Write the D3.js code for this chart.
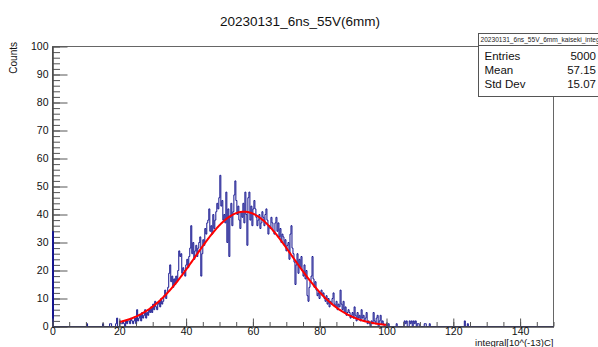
<!DOCTYPE html>
<html>
<head>
<meta charset="utf-8">
<script src="https://cdn.jsdelivr.net/npm/d3@7"></script>
<style>
  body { margin: 0; background: #fff; }
  svg { display: block; font-family: "Liberation Sans", Arial, Helvetica, sans-serif; }
</style>
</head>
<body>
<div id="chart"></div>
<script>
// histogram: 500 bins of 0.3 between 0 and 150
const binWidth = 0.3
const xDomain = [0, 150]
const yDomain = [0, 100]
const xTicks = [0, 20, 40, 60, 80, 100, 120, 140]
const yTicks = [0, 10, 20, 30, 40, 50, 60, 70, 80, 90, 100]

// first bin (x = 0) holds the events with no signal
const zeroBinCount = 34

// contiguous bins, starting at bin 66 (x = 19.8)
const mainStartBin = 66
const countsRise = [
  0, 2, 1, 1, 2, 1, 0, 2, 1, 2,
  2, 1, 3, 2, 1, 2, 3, 1, 6, 2,
  3, 4, 2, 5, 3, 4, 6, 3, 5, 4,
  6, 5, 7, 5, 8, 6, 9, 7, 6, 8,
  9, 7, 10, 8, 9, 11, 13, 10, 12, 14,
  19, 22, 16, 18, 14, 17, 15, 18, 16, 20,
  27, 25, 26, 19, 21, 20, 18, 22, 24, 21,
  25, 28, 36, 26, 30, 24, 27, 29, 25, 28,
  30, 32, 18, 26, 31, 29, 35, 33, 37, 38,
  42, 34, 36, 33, 40, 35, 38, 41, 44, 42,
  46, 54, 43, 45, 38, 40
]
const countsPeak = [
  37, 48, 30, 42, 25, 39, 44, 36, 41, 47,
  52, 45, 40, 43, 38, 35, 41, 39, 44, 37,
  48, 40, 29, 46, 48, 38, 43, 36, 42, 45,
  42, 39, 36, 38, 40, 35, 37, 41, 39, 36,
  40, 42, 38, 33, 36, 35, 39, 37, 34, 33,
  37, 39, 34, 37, 32, 35, 30, 33, 32, 29,
  31, 27, 29, 30, 24, 33, 36, 28, 26, 23,
  15, 22, 26, 19, 24, 21, 25, 20
]
const countsFall = [
  18, 22, 17, 20, 11, 9, 14, 16, 18, 25,
  17, 14, 16, 13, 11, 12, 10, 12, 13, 11,
  12, 10, 9, 11, 8, 10, 7, 9, 8, 10,
  12, 8, 7, 9, 6, 8, 7, 13, 8, 6,
  9, 5, 7, 4, 5, 6, 5, 3, 4, 5,
  3, 7, 4, 2, 5, 3, 4, 2, 6, 3,
  4, 2, 3, 5, 1, 2, 1, 0, 2, 1,
  5, 2, 1, 3, 4, 0, 2, 4, 1, 2
]
const countsTail = [
  1, 0, 0, 1, 0, 1, 0, 0, 0, 0,
  0, 0, 0, 1, 0, 0, 0, 0, 0, 0,
  0, 2, 1, 2, 0, 0, 2, 1, 2, 0,
  2, 1, 2, 0, 1, 1, 0, 0, 0, 0,
  0, 1, 1, 0, 0, 0, 1, 0, 0, 0
]
// isolated entries far in the tails
const strayX = [10.2, 15.0, 17.1, 17.4, 18.9, 19.2, 123.3, 124.2]
const strayCounts = [1, 1, 1, 1, 1, 3, 2, 1]

// gaussian fit
const fitRange = [20, 100]
const fitConstant = 41
const fitMean = 57.3
const fitSigma = 14.6

const titleText = "20230131_6ns_55V(6mm)"
const histName = "20230131_6ns_55V_6mm_kaiseki_integral"
const statLabels = ["Entries", "Mean", "Std Dev"]
const statValues = ["5000", "57.15", "15.07"]

const width = 598, height = 347
const frame = { left: 52.5, right: 553.5, top: 46.5, bottom: 326.5 }

const svg = d3.select("#chart").append("svg")
    .attr("width", width)
    .attr("height", height)

const x = d3.scaleLinear().domain(xDomain).range([frame.left, frame.right])
const y = d3.scaleLinear().domain(yDomain).range([frame.bottom, frame.top])

// fill the bins
const nBins = Math.round((xDomain[1] - xDomain[0]) / binWidth)
const counts = new Array(nBins).fill(0)
counts[0] = zeroBinCount
countsRise.concat(countsPeak, countsFall, countsTail).forEach((c, i) => {
  counts[mainStartBin + i] = c
})
strayX.forEach((v, i) => {
  counts[Math.floor(v / binWidth + 1e-6)] = strayCounts[i]
})

const xMinor = d3.range(xDomain[0], xDomain[1] + 0.001, 5)
const yMinor = d3.range(yDomain[0], yDomain[1] + 0.001, 2)

/* ------- FRAME -------*/
svg.append("rect")
  .attr("x", frame.left)
  .attr("y", frame.top)
  .attr("width", frame.right - frame.left)
  .attr("height", frame.bottom - frame.top)
  .attr("fill", "none")
  .attr("stroke", "#666")

/* ------- Y AXIS (under the histogram) -------*/
const yAxisG = svg.append("g").attr("transform", `translate(${frame.left},0)`)
yAxisG.append("g")
  .call(d3.axisLeft(y).tickValues(yMinor).tickFormat("").tickSizeInner(-7.5).tickSizeOuter(0))
yAxisG.append("g")
  .call(d3.axisLeft(y).tickValues(yTicks).tickSizeInner(-15).tickSizeOuter(0).tickPadding(4))

/* ------- HISTOGRAM -------*/
const pts = counts.map((c, i) => [xDomain[0] + i * binWidth, c])
pts.unshift([xDomain[0], 0])
pts.push([xDomain[1], 0])

const step = d3.line()
  .x(d => x(d[0]))
  .y(d => y(d[1]))
  .curve(d3.curveStepAfter)

svg.append("path")
  .datum(pts)
  .attr("d", step)
  .attr("fill", "none")
  .attr("stroke", "#15158f")
  .attr("stroke-width", 1)

/* ------- FIT -------*/
const gaus = v => fitConstant * Math.exp(-0.5 * Math.pow((v - fitMean) / fitSigma, 2))
const fitPts = d3.range(fitRange[0], fitRange[1] + 0.001, 0.25).map(v => [v, gaus(v)])

svg.append("path")
  .datum(fitPts)
  .attr("d", d3.line().x(d => x(d[0])).y(d => y(d[1])))
  .attr("fill", "none")
  .attr("stroke", "#ff0000")
  .attr("stroke-width", 2)

/* ------- X AXIS -------*/
const xAxisG = svg.append("g").attr("transform", `translate(0,${frame.bottom})`)
xAxisG.append("g")
  .call(d3.axisBottom(x).tickValues(xMinor).tickFormat("").tickSizeInner(-4.5).tickSizeOuter(0))
xAxisG.append("g")
  .call(d3.axisBottom(x).tickValues(xTicks).tickSizeInner(-8).tickSizeOuter(0).tickPadding(1))

svg.selectAll(".tick line").attr("stroke", "#555")
svg.selectAll(".domain").attr("stroke", "#444")
svg.selectAll(".tick text")
  .attr("font-family", "Liberation Sans, Arial, sans-serif")
  .attr("font-size", 10.5)
  .attr("fill", "#111")

svg.append("text")
  .attr("transform", `translate(17,42) rotate(-90)`)
  .attr("text-anchor", "end")
  .attr("font-size", 10)
  .attr("fill", "#111")
  .text("Counts")

svg.append("text")
  .attr("x", frame.right)
  .attr("y", 346)
  .attr("text-anchor", "end")
  .attr("font-size", 9.5)
  .attr("fill", "#111")
  .text("integral[10^(-13)C]")

/* ------- TITLE -------*/
svg.append("text")
  .attr("x", 300)
  .attr("y", 26)
  .attr("text-anchor", "middle")
  .attr("font-size", 13.5)
  .attr("fill", "#111")
  .text(titleText)

/* ------- STATS BOX -------*/
const box = { x: 478.5, y: 33.5, w: 130, h: 63, head: 12 }
const stats = svg.append("g")

stats.append("clipPath").attr("id", "boxclip")
  .append("rect")
    .attr("x", box.x).attr("y", box.y)
    .attr("width", box.w).attr("height", box.h)

stats.append("rect")
  .attr("x", box.x).attr("y", box.y)
  .attr("width", box.w).attr("height", box.h)
  .attr("fill", "#fff")
  .attr("stroke", "#555")

stats.append("line")
  .attr("x1", box.x).attr("x2", box.x + box.w)
  .attr("y1", box.y + box.head).attr("y2", box.y + box.head)
  .attr("stroke", "#555")

stats.append("text")
  .attr("x", box.x + 2)
  .attr("y", box.y + 8.5)
  .attr("font-size", 6.6)
  .attr("fill", "#222")
  .attr("clip-path", "url(#boxclip)")
  .text(histName)

statLabels.forEach((lab, i) => {
  const yy = box.y + box.head + 14 + i * 14
  stats.append("text")
    .attr("x", box.x + 6)
    .attr("y", yy)
    .attr("font-size", 11.5)
    .attr("fill", "#111")
    .text(lab)
  stats.append("text")
    .attr("x", 596)
    .attr("y", yy)
    .attr("text-anchor", "end")
    .attr("font-size", 11.5)
    .attr("fill", "#111")
    .text(statValues[i])
})
</script>
</body>
</html>
